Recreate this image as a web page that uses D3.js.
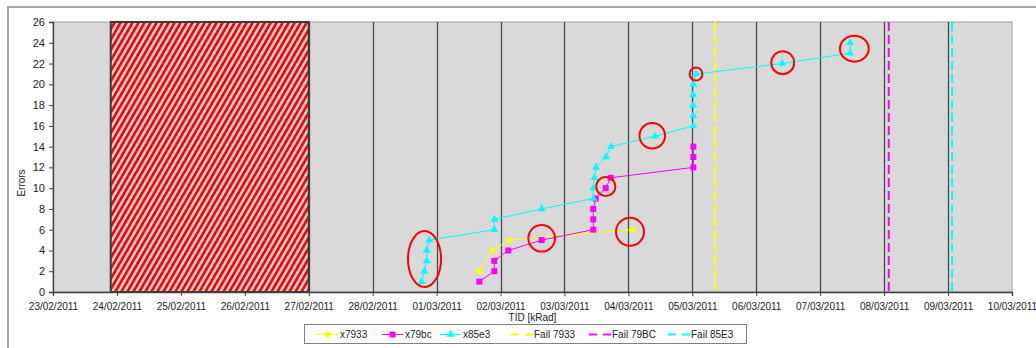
<!DOCTYPE html>
<html>
<head>
<meta charset="utf-8">
<script src="https://cdn.jsdelivr.net/npm/d3@7"></script>
<style>
  html, body { margin: 0; padding: 0; background: #fff; }
  svg { display: block; font-family: "Liberation Sans", Arial, sans-serif; }
</style>
</head>
<body>
<svg id="chart" width="1036" height="348"></svg>
<script>
// Axis range and ticks
const xStart = "23/02/2011 00:00";
const xEnd = "10/03/2011 00:00";
const yTicks = [0, 2, 4, 6, 8, 10, 12, 14, 16, 18, 20, 22, 24, 26];

// Out-of-beam period (hatched block)
const blockStart = "23/02/2011 21:40";
const blockEnd = "27/02/2011 00:00";

// x7933 error log
const t7933 = ["01/03/2011 16:02", "01/03/2011 21:00", "02/03/2011 03:11", "04/03/2011 01:36"];
const e7933 = [2, 4, 5, 6];

// x79bc error log
const t79bc = ["01/03/2011 16:02", "01/03/2011 21:40", "01/03/2011 21:40", "02/03/2011 02:56",
               "02/03/2011 15:27", "03/03/2011 10:49", "03/03/2011 10:49", "03/03/2011 10:49",
               "03/03/2011 11:44", "03/03/2011 15:29", "03/03/2011 17:22", "05/03/2011 00:23",
               "05/03/2011 00:23", "05/03/2011 00:23"];
const e79bc = [1, 2, 3, 4, 5, 6, 7, 8, 9, 10, 11, 12, 13, 14];

// x85e3 error log
const t85e3 = ["28/02/2011 18:24", "28/02/2011 19:23", "28/02/2011 20:17", "28/02/2011 20:17",
               "28/02/2011 21:16", "01/03/2011 21:40", "01/03/2011 21:40", "02/03/2011 15:27",
               "03/03/2011 10:49", "03/03/2011 10:49", "03/03/2011 11:12", "03/03/2011 11:51",
               "03/03/2011 15:36", "03/03/2011 17:28", "04/03/2011 10:00", "05/03/2011 00:23",
               "05/03/2011 00:23", "05/03/2011 00:23", "05/03/2011 00:23", "05/03/2011 00:23",
               "05/03/2011 01:23", "06/03/2011 09:48", "07/03/2011 11:12", "07/03/2011 11:12"];
const e85e3 = [1, 2, 3, 4, 5, 6, 7, 8, 9, 10, 11, 12, 13, 14, 15, 16, 17, 18, 19, 20, 21, 22, 23, 24];

// Device failure times
const failNames = ["Fail 7933", "Fail 79BC", "Fail 85E3"];
const failTimes = ["05/03/2011 08:31", "08/03/2011 01:44", "09/03/2011 01:29"];

// Highlighted events: centre time, centre error count, half-width (hours), half-height (errors)
const markTimes = ["28/02/2011 19:28", "02/03/2011 15:27", "04/03/2011 00:36", "03/03/2011 15:32",
                   "04/03/2011 08:58", "05/03/2011 01:23", "06/03/2011 09:56", "07/03/2011 12:49"];
const markErrors = [3.18, 5.17, 5.8, 10.16, 15.05, 20.99, 22.08, 23.43];
const markHalfHours = [6.2, 5.0, 5.25, 3.6, 4.8, 2.4, 4.3, 5.4];
const markHalfErrors = [2.7, 1.28, 1.35, 0.91, 1.22, 0.63, 1.1, 1.25];

const seriesNames = ["x7933", "x79bc", "x85e3"];

const parse = d3.timeParse("%d/%m/%Y %H:%M");
const svg = d3.select("#chart");

const plotL = 53, plotR = 1012, plotT = 22, plotB = 292;
const x = d3.scaleTime().domain([parse(xStart), parse(xEnd)]).range([plotL, plotR]);
const y = d3.scaleLinear().domain([0, 26]).range([plotB, plotT]);

// Outer chart frame
svg.append("rect").attr("x", 8).attr("y", 7).attr("width", 1100).attr("height", 400)
  .attr("fill", "#fff").attr("stroke", "#a6a6a6").attr("stroke-width", 2);

// Hatch pattern
const defs = svg.append("defs");
const pat = defs.append("pattern").attr("id", "hatch").attr("patternUnits", "userSpaceOnUse")
  .attr("width", 5.2).attr("height", 10).attr("patternTransform", "rotate(30)");
pat.append("rect").attr("width", 5.2).attr("height", 10).attr("fill", "#d9d9d9");
pat.append("rect").attr("width", 2.7).attr("height", 10).attr("fill", "#ff0000");

// Plot area
svg.append("rect").attr("x", plotL).attr("y", plotT).attr("width", plotR - plotL).attr("height", plotB - plotT)
  .attr("fill", "#d9d9d9").attr("stroke", "#a0a0a0").attr("stroke-width", 1);

// Day gridlines
const days = d3.timeDay.range(parse(xStart), d3.timeDay.offset(parse(xEnd), 1));
svg.append("g").selectAll("line").data(days.slice(1, -1)).join("line")
  .attr("x1", d => Math.round(x(d)) + 0.5).attr("x2", d => Math.round(x(d)) + 0.5)
  .attr("y1", plotT).attr("y2", plotB)
  .attr("stroke", "#4a4a4a").attr("stroke-width", 1.3);

// Hatched block
svg.append("rect")
  .attr("x", x(parse(blockStart))).attr("y", y(26))
  .attr("width", x(parse(blockEnd)) - x(parse(blockStart))).attr("height", y(0) - y(26))
  .attr("fill", "url(#hatch)").attr("stroke", "#3a3a3a").attr("stroke-width", 2);

// Series
const colors = ["#ffff00", "#ff00ff", "#00ffff"];
const timesList = [t7933, t79bc, t85e3];
const errList = [e7933, e79bc, e85e3];
const symbols = [d3.symbolCircle, d3.symbolSquare, d3.symbolTriangle];
const symbolSizes = [26, 36, 28];
const line = d3.line().x(d => x(d[0])).y(d => y(d[1]));

timesList.forEach((ts, i) => {
  const pts = ts.map((t, j) => [parse(t), errList[i][j]]);
  const g = svg.append("g");
  g.append("path").datum(pts).attr("d", line)
    .attr("fill", "none").attr("stroke", colors[i]).attr("stroke-width", 1);
  g.selectAll("path.m").data(pts).join("path").attr("class", "m")
    .attr("transform", d => `translate(${x(d[0])},${y(d[1])})`)
    .attr("d", d3.symbol(symbols[i], symbolSizes[i]))
    .attr("fill", colors[i]);
});

// Failure lines
failTimes.forEach((t, i) => {
  const fx = x(parse(t));
  svg.append("line").attr("x1", fx).attr("x2", fx).attr("y1", plotT).attr("y2", plotB)
    .attr("stroke", colors[i]).attr("stroke-width", 2).attr("stroke-dasharray", "9,4");
});

// Highlight ellipses
markTimes.forEach((t, i) => {
  const c = parse(t);
  const cx = x(c);
  const rx = x(new Date(c.getTime() + markHalfHours[i] * 3600e3)) - cx;
  const cy = y(markErrors[i]);
  const ry = y(markErrors[i] - markHalfErrors[i]) - cy;
  svg.append("ellipse").attr("cx", cx).attr("cy", cy).attr("rx", rx).attr("ry", ry)
    .attr("fill", "none").attr("stroke", "#ff0000").attr("stroke-width", 2);
});

// Axes
const yAxis = svg.append("g").attr("transform", `translate(${plotL},0)`)
  .call(d3.axisLeft(y).tickValues(yTicks).tickSize(4).tickPadding(4));
const xAxis = svg.append("g").attr("transform", `translate(0,${plotB})`)
  .call(d3.axisBottom(x).ticks(d3.timeDay.every(1)).tickFormat(d3.timeFormat("%d/%m/%Y"))
    .tickSize(4).tickPadding(7));
[yAxis, xAxis].forEach(a => {
  a.select(".domain").attr("stroke", "#404040").attr("stroke-width", 1.3);
  a.selectAll(".tick line").attr("stroke", "#404040");
  a.selectAll("text").attr("fill", "#222")
    .attr("font-family", '"Liberation Sans", Arial, sans-serif');
});
yAxis.selectAll("text").attr("font-size", 11);
xAxis.selectAll("text").attr("font-size", 10);

// Axis titles
svg.append("text").attr("x", (plotL + plotR) / 2).attr("y", 321).attr("text-anchor", "middle")
  .attr("font-size", 10).attr("fill", "#222").text("TID [kRad]");
svg.append("text").attr("transform", "translate(25,183) rotate(-90)").attr("text-anchor", "middle")
  .attr("font-size", 10).attr("fill", "#222").text("Errors");

// Legend
const lg = svg.append("g");
lg.append("rect").attr("x", 304.5).attr("y", 324.5).attr("width", 442).attr("height", 19)
  .attr("fill", "#fff").attr("stroke", "#808080").attr("stroke-width", 1);
const legX = [317, 382, 440, 511, 589, 668];
const legLabels = seriesNames.concat(failNames);
legLabels.forEach((name, i) => {
  const lx = legX[i];
  const ly = 334.5;
  const col = colors[i % 3];
  const it = lg.append("g");
  if (i < 3) {
    it.append("line").attr("x1", lx).attr("x2", lx + 21).attr("y1", ly).attr("y2", ly)
      .attr("stroke", col).attr("stroke-width", 1);
    it.append("path").attr("transform", `translate(${lx + 10.5},${ly})`)
      .attr("d", d3.symbol(symbols[i], symbolSizes[i])).attr("fill", col);
  } else {
    it.append("line").attr("x1", lx).attr("x2", lx + 22).attr("y1", ly).attr("y2", ly)
      .attr("stroke", col).attr("stroke-width", 2).attr("stroke-dasharray", "8,6");
  }
  it.append("text").attr("x", lx + 23).attr("y", ly + 3.5).attr("font-size", 10)
    .attr("fill", "#222").text(name);
});
</script>
</body>
</html>
